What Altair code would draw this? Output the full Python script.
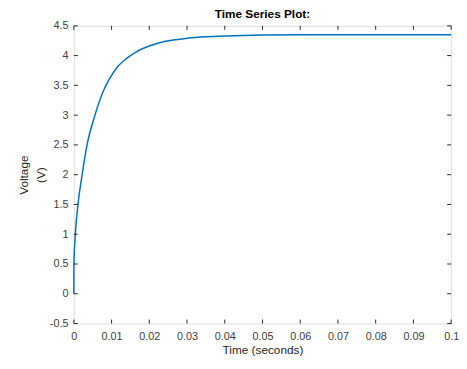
import altair as alt
import pandas as pd

time_s = [0, 0.00003, 0.0004, 0.0011, 0.0022, 0.0035, 0.0056, 0.0078, 0.00955, 0.0117,
          0.0139, 0.0165, 0.020, 0.0243, 0.03, 0.035, 0.0404, 0.05, 0.06, 0.07, 0.08, 0.09, 0.1]
voltage = [0, 0.5, 1.0, 1.5, 2.0, 2.5, 3.0, 3.40, 3.62, 3.82,
           3.95, 4.06, 4.16, 4.24, 4.29, 4.315, 4.33, 4.345, 4.35, 4.35, 4.35, 4.35, 4.35]
x_ticks = [0, 0.01, 0.02, 0.03, 0.04, 0.05, 0.06, 0.07, 0.08, 0.09, 0.1]
y_ticks = [-0.5, 0, 0.5, 1, 1.5, 2, 2.5, 3, 3.5, 4, 4.5]

df = pd.DataFrame({"t": time_s, "v": voltage})
xt = pd.DataFrame({"t": x_ticks})
yt = pd.DataFrame({"v": y_ticks})

W, H = 384, 303
FONT = "Liberation Sans"
LAB = "#404040"

xscale = alt.Scale(domain=[0, 0.1], nice=False, zero=False)
yscale = alt.Scale(domain=[-0.5, 4.5], nice=False, zero=False)

x_axis = alt.Axis(values=x_ticks, title="Time (seconds)", ticks=False, domain=False,
                  grid=False, labelPadding=7, labelFont=FONT, labelFontSize=11,
                  labelColor=LAB, titleFont=FONT, titleFontSize=12, titleFontWeight="normal",
                  titleColor="#262626", titlePadding=3, labelFlush=False,
                  labelOverlap=False, labelExpr="'' + datum.value")
y_axis = alt.Axis(values=y_ticks, title=["Voltage", "(V)"], ticks=False, domain=False,
                  grid=False, labelPadding=6, labelFont=FONT, labelFontSize=11,
                  labelColor=LAB, titleFont=FONT, titleFontSize=12, titleFontWeight="normal",
                  titleColor="#262626", titlePadding=2, titleLineHeight=17,
                  labelFlush=False, labelOverlap=False,
                  labelExpr="'' + datum.value")

line = alt.Chart(df).mark_line(color="#0072BD", strokeWidth=1.5, interpolate="monotone").encode(
    x=alt.X("t:Q", scale=xscale, axis=x_axis),
    y=alt.Y("v:Q", scale=yscale, axis=y_axis),
)

tick_color = "#262626"
xb = alt.Chart(xt).mark_rule(color=tick_color, strokeWidth=1).encode(
    x=alt.X("t:Q", scale=xscale, axis=x_axis), y=alt.value(H), y2=alt.value(H - 4))
xtop = alt.Chart(xt).mark_rule(color=tick_color, strokeWidth=1).encode(
    x=alt.X("t:Q", scale=xscale, axis=x_axis), y=alt.value(0), y2=alt.value(4))
yl = alt.Chart(yt).mark_rule(color=tick_color, strokeWidth=1).encode(
    y=alt.Y("v:Q", scale=yscale, axis=y_axis), x=alt.value(0), x2=alt.value(4))
yr = alt.Chart(yt).mark_rule(color=tick_color, strokeWidth=1).encode(
    y=alt.Y("v:Q", scale=yscale, axis=y_axis), x=alt.value(W), x2=alt.value(W - 4))

chart = alt.layer(line, xb, xtop, yl, yr).properties(
    width=W, height=H,
    title=alt.TitleParams("Time Series Plot:", font=FONT, fontSize=12, fontWeight="bold",
                          color="#000000", anchor="middle", offset=-1),
    autosize=alt.AutoSizeParams(type="none"),
    padding={"left": 67, "top": 15, "right": 8, "bottom": 35},
).configure_view(stroke="#262626", strokeWidth=1).configure(background="white")

chart.save("out.html", embed_options={"renderer": "svg", "actions": False})
